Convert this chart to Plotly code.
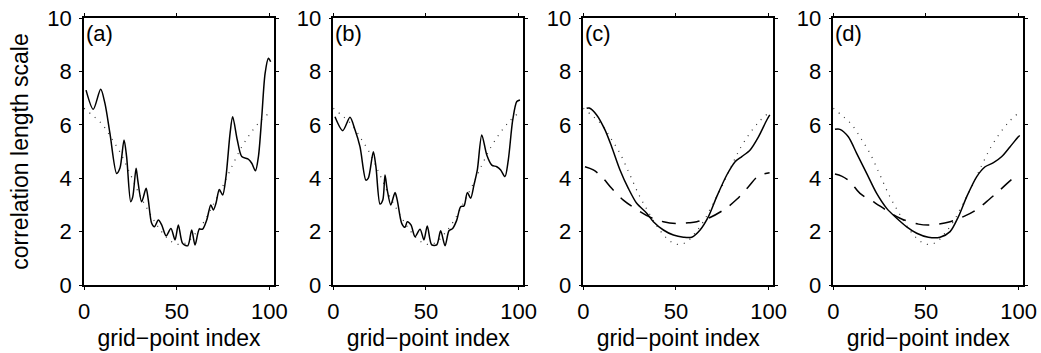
import plotly.graph_objects as go

# ---- data ----
truth_x = [0, 5, 10, 15, 20, 25, 30, 35, 40, 45, 50, 55, 60, 65, 70, 75, 80, 85, 90, 95, 100]
truth_y = [6.62, 6.33, 6.0, 5.48, 4.9, 4.15, 3.38, 2.75, 2.18, 1.75, 1.53, 1.58, 1.92, 2.4, 3.05, 3.72, 4.47, 5.16, 5.7, 6.13, 6.45]

a_x = [1.1, 5, 9, 11.3, 14, 17.6, 19.4, 21.6, 23, 25.2, 26.3, 28.1, 29, 31.1, 33.5, 34.7, 36.5, 38, 40.1, 41.9,
       44.3, 46.9, 49.1, 50.9, 53.2, 56, 58.1, 59.9, 62.2, 64, 66.2, 68.4, 69.8, 71.2, 73, 74.8, 76.6, 78.8, 80.2,
       82.7, 85.1, 88.7, 90.5, 92.5, 94.1, 95.9, 97.7, 99.5, 100.7]
a_y = [7.3, 6.58, 7.33, 6.8, 5.68, 4.18, 4.38, 5.43, 4.8, 3.12, 3.3, 4.37, 3.93, 3.12, 3.62, 3.18, 2.31, 2.18, 2.43, 2.25,
       1.84, 2.12, 1.69, 2.25, 1.56, 1.47, 2.06, 1.5, 2.09, 2.09, 2.43, 3.0, 2.81, 3.06, 3.58, 3.37, 4.06, 5.68, 6.3,
       5.43, 4.81, 4.71, 4.56, 4.28, 4.81, 6.3, 7.93, 8.49, 8.36]

b_x = [0.9, 5.1, 9, 11.7, 14.4, 17.6, 18.9, 21.6, 23, 25.2, 26.7, 27.9, 29.1, 31, 33.3, 34.5, 36.9, 38.7, 39.9, 41.9,
       44.1, 46.8, 48.9, 50.7, 53.1, 55.8, 57.9, 60.3, 62.4, 64.4, 66.6, 68.7, 70.5, 72.3, 74.1, 75.9, 77.7, 80.1,
       82.8, 85.5, 88.2, 90.3, 92.6, 94.4, 96.8, 99, 100.7]
b_y = [6.3, 5.78, 6.28, 5.81, 5.18, 3.93, 4.0, 4.99, 4.43, 3.03, 3.18, 4.12, 3.56, 3.0, 3.46, 3.18, 2.31, 2.16, 2.37, 2.25,
       1.81, 2.09, 1.69, 2.21, 1.5, 1.5, 2.03, 1.47, 2.03, 2.12, 2.43, 2.93, 2.96, 3.46, 3.25, 3.75, 4.31, 5.62,
       4.87, 4.49, 4.43, 4.31, 4.06, 4.68, 6.18, 6.87, 6.93]

c_x = [1.8, 3.2, 7.2, 11.7, 15.3, 19.8, 24.3, 28.8, 34.2, 37.8, 43.2, 48.6, 54, 58.5, 63, 67.5, 72, 77.4, 81.9, 85.5, 90, 94.5, 99, 100.6]
c_y = [6.62, 6.63, 6.37, 5.81, 5.18, 4.31, 3.62, 3.06, 2.69, 2.37, 2.06, 1.87, 1.79, 1.79, 2.06, 2.56, 3.31, 4.12, 4.62, 4.81, 5.06, 5.55, 6.18, 6.37]
c_dash_x = [0.9, 5.4, 9.9, 15.3, 21.6, 27.9, 36, 43.2, 50.4, 56.7, 61.2, 67.5, 76.5, 82.8, 89.1, 94.5, 100.5]
c_dash_y = [4.43, 4.31, 4.06, 3.62, 3.18, 2.87, 2.54, 2.37, 2.3, 2.33, 2.37, 2.5, 2.85, 3.21, 3.68, 4.08, 4.2]

d_x = [0.9, 3.6, 8.1, 12.6, 18, 23.4, 28.8, 34.2, 39.6, 45, 51.3, 57.6, 63, 67.5, 72, 77.4, 81.9, 86.4, 90.9, 95.4, 99.8, 100.6]
d_y = [5.83, 5.83, 5.55, 4.93, 4.18, 3.43, 2.87, 2.5, 2.18, 1.94, 1.79, 1.79, 2.0, 2.56, 3.31, 4.06, 4.43, 4.58, 4.81, 5.18, 5.55, 5.6]
d_dash_x = [0.9, 4.5, 9, 14.4, 22.5, 29.7, 36, 45.9, 53.1, 63, 70.2, 77.4, 84.2, 90.9, 97.1, 100.5]
d_dash_y = [4.16, 4.08, 3.87, 3.43, 3.08, 2.75, 2.5, 2.28, 2.25, 2.37, 2.56, 2.83, 3.21, 3.62, 4.0, 4.1]

panel_labels = ["(a)", "(b)", "(c)", "(d)"]
x_ticks = [0, 50, 100]
y_ticks = [0, 2, 4, 6, 8, 10]

# ---- figure ----
W, H = 1041, 353
lefts = [84, 333.3, 583.3, 833.3]
pw = 190
top, bottom = 18, 285

fig = go.Figure()
FONT = "Liberation Sans, Arial, sans-serif"

solid = dict(color="black", width=1.5, shape="spline", smoothing=0.8)
dotted = dict(color="#333333", width=1.2, dash="1px,6px", shape="spline")
dashed = dict(color="black", width=1.5, dash="14px,10px", shape="spline")

panels = [
    [(a_x, a_y, solid)],
    [(b_x, b_y, solid)],
    [(c_x, c_y, solid), (c_dash_x, c_dash_y, dashed)],
    [(d_x, d_y, solid), (d_dash_x, d_dash_y, dashed)],
]

for i, series in enumerate(panels):
    ax = "" if i == 0 else str(i + 1)
    fig.add_trace(go.Scatter(x=truth_x, y=truth_y, mode="lines", line=dotted,
                             xaxis="x" + ax, yaxis="y" + ax, showlegend=False))
    for sx, sy, st in series:
        fig.add_trace(go.Scatter(x=sx, y=sy, mode="lines", line=st,
                                 xaxis="x" + ax, yaxis="y" + ax, showlegend=False))
    common = dict(showgrid=False, zeroline=False, showline=True, linecolor="black", linewidth=1.5,
                  mirror="ticks", ticks="outside", ticklen=3, tickwidth=1, tickcolor="black",
                  automargin=False,
                  tickfont=dict(family=FONT, size=22, color="black"))
    xd = [lefts[i] / W, (lefts[i] + pw) / W]
    yd = [(H - bottom) / H, (H - top) / H]
    fig.update_layout(**{
        "xaxis" + ax: dict(domain=xd, range=[0, 102.5], tickvals=x_ticks, anchor="y" + ax,
                           ticklabelstandoff=3,
                           title=dict(text="grid\u2212point index", font=dict(family=FONT, size=23, color="black"), standoff=7),
                           **common),
        "yaxis" + ax: dict(domain=yd, range=[0, 10], tickvals=y_ticks, anchor="x" + ax,
                           ticklabelstandoff=3,
                           title=dict(text="correlation length scale" if i == 0 else "",
                                      font=dict(family=FONT, size=23, color="black"), standoff=12),
                           **common),
    })
    fig.add_annotation(text=panel_labels[i], xref="x" + ax + " domain", yref="y" + ax + " domain",
                       x=0, y=1, xanchor="left", yanchor="top", showarrow=False, yshift=-1,
                       font=dict(family=FONT, size=22, color="black"))

fig.update_layout(width=W, height=H, margin=dict(l=0, r=0, t=0, b=0),
                  plot_bgcolor="white", paper_bgcolor="white")
fig.write_html("out.html")
